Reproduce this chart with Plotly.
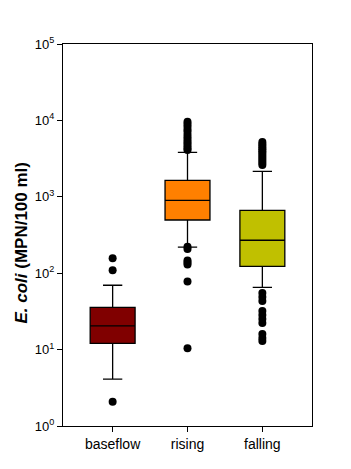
import plotly.graph_objects as go

categories = ["baseflow", "rising", "falling"]
colors = ["#800000", "#FF8000", "#C0C000"]

q1 = [12.1, 497, 123]
median = [20.5, 900, 270]
q3 = [35.8, 1644, 666]
lower_whisker = [4.1, 220, 65.4]
upper_whisker = [69.5, 3823, 2157]

outliers_baseflow = [157, 109, 2.08]
outliers_rising = [9600, 9000, 8300, 7600, 7100, 6500, 6000, 5600, 5200, 4900, 4600, 4300, 4100,
                   222, 208, 147, 138, 130, 78, 10.4]
outliers_falling = [5200, 4900, 4650, 4400, 4180, 3950, 3740, 3520, 3320, 3120, 2940, 2760, 2610,
                    55, 48.8, 43.3, 32, 28.4, 25.1, 22.3, 16, 14.2, 13]

tick_vals = [1, 10, 100, 1000, 10000, 100000]
tick_text = ["10<sup>0</sup>", "10<sup>1</sup>", "10<sup>2</sup>", "10<sup>3</sup>",
             "10<sup>4</sup>", "10<sup>5</sup>"]

FONT = "Arial, 'Liberation Sans', sans-serif"

fig = go.Figure()
for i, cat in enumerate(categories):
    fig.add_trace(go.Box(
        x=[cat], q1=[q1[i]], median=[median[i]], q3=[q3[i]],
        lowerfence=[lower_whisker[i]], upperfence=[upper_whisker[i]],
        fillcolor=colors[i], line=dict(color="black", width=1.3),
        width=0.6, whiskerwidth=0.43, boxpoints=False, showlegend=False,
    ))

for cat, vals in zip(categories, [outliers_baseflow, outliers_rising, outliers_falling]):
    fig.add_trace(go.Scatter(
        x=[cat] * len(vals), y=vals, mode="markers",
        marker=dict(color="black", size=8, line=dict(width=0)),
        showlegend=False, hoverinfo="y",
    ))

fig.update_layout(
    width=351, height=469,
    margin=dict(l=63, r=39, t=44, b=43),
    paper_bgcolor="white", plot_bgcolor="white",
    font=dict(family=FONT, color="black", size=12),
    xaxis=dict(
        type="category", categoryorder="array", categoryarray=categories,
        range=[-0.663, 2.663], showline=True, linecolor="black", linewidth=1,
        mirror=True, ticks="outside", ticklen=5, tickcolor="black",
        tickfont=dict(size=14), showgrid=False, zeroline=False,
    ),
    yaxis=dict(
        type="log", range=[0, 5], showline=True, linecolor="black", linewidth=1,
        mirror=True, ticks="outside", ticklen=5, tickcolor="black",
        tickvals=tick_vals, ticktext=tick_text, tickfont=dict(size=13),
        showgrid=False, zeroline=False,
    ),
    annotations=[dict(
        text="<b><i>E. coli</i> (MPN/100 ml)</b>", textangle=-90,
        xref="paper", yref="paper", x=-0.165, y=0.48, xanchor="center", yanchor="middle",
        showarrow=False, font=dict(size=17, family=FONT, color="black"),
    )],
)

fig.write_html("out.html")
